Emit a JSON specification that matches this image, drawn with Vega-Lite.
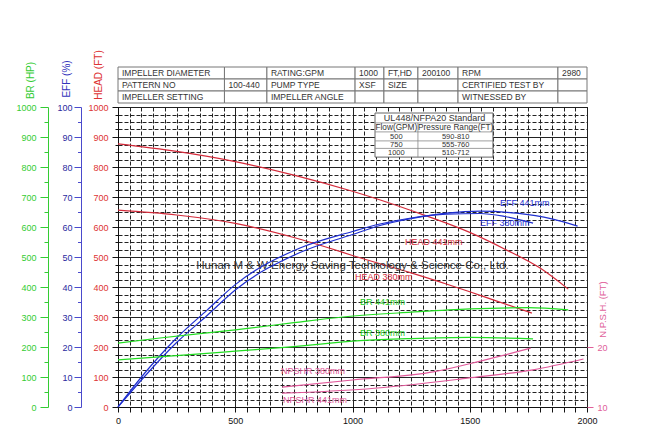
{
  "$schema": "https://vega.github.io/schema/vega-lite/v6.json",
  "background": "white",
  "padding": {"left": 15, "top": 49, "right": 5, "bottom": 5},
  "config": {"font": "Liberation Sans", "view": {"stroke": null}},
  "spacing": 4,
  "bounds": "flush",
  "resolve": {"scale": {"x": "independent", "y": "independent"}},
  "datasets": {
    "table": [
      {"row": 1, "x0": 0, "x1": 454, "label": "IMPELLER DIAMETER"},
      {"row": 1, "x0": 454, "x1": 635, "label": ""},
      {"row": 1, "x0": 635, "x1": 1011, "label": "RATING:GPM"},
      {"row": 1, "x0": 1011, "x1": 1134, "label": "1000"},
      {"row": 1, "x0": 1134, "x1": 1279, "label": "FT,HD"},
      {"row": 1, "x0": 1279, "x1": 1450, "label": "200100"},
      {"row": 1, "x0": 1450, "x1": 1876, "label": "RPM"},
      {"row": 1, "x0": 1876, "x1": 2000, "label": "2980"},
      {"row": 2, "x0": 0, "x1": 454, "label": "PATTERN NO"},
      {"row": 2, "x0": 454, "x1": 635, "label": "100-440"},
      {"row": 2, "x0": 635, "x1": 1011, "label": "PUMP TYPE"},
      {"row": 2, "x0": 1011, "x1": 1134, "label": "XSF"},
      {"row": 2, "x0": 1134, "x1": 1279, "label": "SIZE"},
      {"row": 2, "x0": 1279, "x1": 1450, "label": ""},
      {"row": 2, "x0": 1450, "x1": 1876, "label": "CERTIFIED TEST BY"},
      {"row": 2, "x0": 1876, "x1": 2000, "label": ""},
      {"row": 3, "x0": 0, "x1": 454, "label": "IMPELLER SETTING"},
      {"row": 3, "x0": 454, "x1": 635, "label": ""},
      {"row": 3, "x0": 635, "x1": 1011, "label": "IMPELLER ANGLE"},
      {"row": 3, "x0": 1011, "x1": 1134, "label": ""},
      {"row": 3, "x0": 1134, "x1": 1279, "label": ""},
      {"row": 3, "x0": 1279, "x1": 1450, "label": ""},
      {"row": 3, "x0": 1450, "x1": 1876, "label": "WITNESSED BY"},
      {"row": 3, "x0": 1876, "x1": 2000, "label": ""}
    ],
    "head": [
      {"series": "441", "Q": 0, "v": 877}, {"series": "441", "Q": 250, "v": 852}, {"series": "441", "Q": 500, "v": 818},
      {"series": "441", "Q": 750, "v": 773}, {"series": "441", "Q": 1000, "v": 719}, {"series": "441", "Q": 1250, "v": 655},
      {"series": "441", "Q": 1500, "v": 582}, {"series": "441", "Q": 1650, "v": 526}, {"series": "441", "Q": 1800, "v": 463},
      {"series": "441", "Q": 1920, "v": 393},
      {"series": "380", "Q": 0, "v": 656}, {"series": "380", "Q": 250, "v": 640}, {"series": "380", "Q": 500, "v": 612},
      {"series": "380", "Q": 750, "v": 565}, {"series": "380", "Q": 900, "v": 530}, {"series": "380", "Q": 1000, "v": 505},
      {"series": "380", "Q": 1250, "v": 447}, {"series": "380", "Q": 1400, "v": 410}, {"series": "380", "Q": 1500, "v": 384},
      {"series": "380", "Q": 1600, "v": 357}, {"series": "380", "Q": 1765, "v": 313}
    ],
    "headLabels": [
      {"Q": 1224, "v": 550, "label": "HEAD 441mm"},
      {"Q": 1011, "v": 433, "label": "HEAD 380mm"}
    ],
    "company": [
      {"Q": 1000, "v": 470, "label": "Hunan M & W Energy Saving Technology & Science Co., Ltd."}
    ],
    "box": [
      {"Q": 1096, "Q2": 1599, "v": 833, "v2": 980}
    ],
    "boxLines": [
      {"Q": 1096, "Q2": 1599, "v": 947, "v2": 947},
      {"Q": 1096, "Q2": 1599, "v": 917, "v2": 917},
      {"Q": 1096, "Q2": 1599, "v": 887, "v2": 887},
      {"Q": 1096, "Q2": 1599, "v": 862, "v2": 862},
      {"Q": 1279, "Q2": 1279, "v": 833, "v2": 947}
    ],
    "boxText": [
      {"Q": 1350, "v": 963, "part": "title", "label": "UL448/NFPA20 Standard"},
      {"Q": 1187, "v": 931, "part": "header", "label": "Flow(GPM)"},
      {"Q": 1440, "v": 931, "part": "header", "label": "Pressure Range(FT)"},
      {"Q": 1187, "v": 901, "part": "row", "label": "500"},
      {"Q": 1440, "v": 901, "part": "row", "label": "590-810"},
      {"Q": 1187, "v": 874, "part": "row", "label": "750"},
      {"Q": 1440, "v": 874, "part": "row", "label": "555-760"},
      {"Q": 1187, "v": 847, "part": "row", "label": "1000"},
      {"Q": 1440, "v": 847, "part": "row", "label": "510-712"}
    ],
    "eff": [
      {"series": "441", "Q": 0, "v": 0}, {"series": "441", "Q": 100, "v": 9}, {"series": "441", "Q": 250, "v": 21.5},
      {"series": "441", "Q": 380, "v": 30.5}, {"series": "441", "Q": 500, "v": 39}, {"series": "441", "Q": 776, "v": 51.5},
      {"series": "441", "Q": 1000, "v": 57.5}, {"series": "441", "Q": 1117, "v": 60.5}, {"series": "441", "Q": 1250, "v": 62.8},
      {"series": "441", "Q": 1400, "v": 64.6}, {"series": "441", "Q": 1544, "v": 65.3}, {"series": "441", "Q": 1700, "v": 64.6},
      {"series": "441", "Q": 1850, "v": 62.7}, {"series": "441", "Q": 1960, "v": 60.3},
      {"series": "380", "Q": 0, "v": 0}, {"series": "380", "Q": 100, "v": 10}, {"series": "380", "Q": 250, "v": 23},
      {"series": "380", "Q": 380, "v": 32.3}, {"series": "380", "Q": 500, "v": 40.8}, {"series": "380", "Q": 776, "v": 53},
      {"series": "380", "Q": 1000, "v": 58.5}, {"series": "380", "Q": 1117, "v": 61}, {"series": "380", "Q": 1250, "v": 63},
      {"series": "380", "Q": 1400, "v": 64.3}, {"series": "380", "Q": 1544, "v": 64.5}, {"series": "380", "Q": 1650, "v": 63.5},
      {"series": "380", "Q": 1770, "v": 61.3}
    ],
    "effLabels": [
      {"Q": 1629, "v": 68, "label": "EFF 441mm"},
      {"Q": 1544, "v": 61.3, "label": "EFF 380mm"}
    ],
    "br": [
      {"series": "441", "Q": 0, "v": 213}, {"series": "441", "Q": 179, "v": 230}, {"series": "441", "Q": 500, "v": 257},
      {"series": "441", "Q": 750, "v": 281}, {"series": "441", "Q": 960, "v": 300}, {"series": "441", "Q": 1250, "v": 316},
      {"series": "441", "Q": 1500, "v": 327}, {"series": "441", "Q": 1750, "v": 331}, {"series": "441", "Q": 1920, "v": 324},
      {"series": "380", "Q": 0, "v": 157}, {"series": "380", "Q": 350, "v": 177}, {"series": "380", "Q": 500, "v": 186},
      {"series": "380", "Q": 750, "v": 201}, {"series": "380", "Q": 1032, "v": 221}, {"series": "380", "Q": 1250, "v": 228},
      {"series": "380", "Q": 1500, "v": 232}, {"series": "380", "Q": 1770, "v": 227}
    ],
    "brLabels": [
      {"Q": 1032, "v": 350, "label": "BR 441mm"},
      {"Q": 1032, "v": 247, "label": "BR 380mm"}
    ],
    "npsh": [
      {"series": "380", "Q": 700, "v": 13.3}, {"series": "380", "Q": 1000, "v": 14.5}, {"series": "380", "Q": 1350, "v": 15.9},
      {"series": "380", "Q": 1550, "v": 17.7}, {"series": "380", "Q": 1760, "v": 19.8},
      {"series": "441", "Q": 700, "v": 12.3}, {"series": "441", "Q": 1060, "v": 13.0}, {"series": "441", "Q": 1490, "v": 14.8},
      {"series": "441", "Q": 1770, "v": 16.2}, {"series": "441", "Q": 1985, "v": 18.0}
    ],
    "npshLabels": [
      {"Q": 695, "v": 16, "label": "NPSHR 380mm"},
      {"Q": 704, "v": 11.2, "label": "NPSHR 441mm"}
    ]
  },
  "vconcat": [
    {
      "width": 469,
      "height": 36,
      "data": {"name": "table"},
      "encoding": {
        "x": {"field": "x0", "type": "quantitative", "scale": {"domain": [0, 2000], "nice": false, "zero": false}, "axis": null},
        "y": {"field": "row", "type": "ordinal", "scale": {"paddingInner": 0, "paddingOuter": 0}, "axis": null}
      },
      "layer": [
        {"mark": {"type": "rect", "fill": "white", "stroke": "#777", "strokeWidth": 1}, "encoding": {"x2": {"field": "x1"}}},
        {"mark": {"type": "text", "align": "left", "baseline": "middle", "dx": 4, "fontSize": 8.5, "color": "#333"}, "encoding": {"text": {"field": "label"}}}
      ]
    },
    {
      "width": 469,
      "height": 300,
      "view": {"stroke": "black", "strokeWidth": 1},
      "resolve": {"scale": {"y": "independent"}},
      "encoding": {
        "x": {
          "field": "Q", "type": "quantitative",
          "scale": {"domain": [0, 2000], "nice": false, "zero": false},
          "axis": {
            "values": [0,50,100,150,200,250,300,350,400,450,500,550,600,650,700,750,800,850,900,950,1000,1050,1100,1150,1200,1250,1300,1350,1400,1450,1500,1550,1600,1650,1700,1750,1800,1850,1900,1950,2000],
            "labelExpr": "datum.value % 500 === 0 ? '' + datum.value : ''",
            "labelOverlap": false, "labelFlush": false, "labelFontSize": 9, "labelColor": "#111", "labelPadding": 4,
            "tickSize": 5, "tickColor": "#111", "domainColor": "#111",
            "grid": true, "gridColor": "#222", "gridOpacity": 1, "gridWidth": 1,
            "gridDash": {"condition": {"test": "datum.value % 500 === 0", "value": []}, "value": [4, 2]},
            "title": null
          }
        }
      },
      "layer": [
        {
          "encoding": {
            "y": {
              "field": "v", "type": "quantitative",
              "scale": {"domain": [0, 1000], "nice": false, "zero": false},
              "axis": {
                "orient": "left",
                "values": [0,25,50,75,100,125,150,175,200,225,250,275,300,325,350,375,400,425,450,475,500,525,550,575,600,625,650,675,700,725,750,775,800,825,850,875,900,925,950,975,1000],
                "labelExpr": "datum.value % 100 === 0 ? '' + datum.value : ''",
                "labelOverlap": false, "labelFlush": false, "labelFontSize": 9, "labelColor": "#dd3333", "labelPadding": 4,
                "tickSize": {"condition": {"test": "datum.value % 100 === 0", "value": 6}, "value": 3},
                "tickColor": "#111", "domainColor": "#111",
                "grid": true, "gridColor": "#222", "gridOpacity": 1, "gridWidth": 1,
                "gridDash": {"condition": {"test": "datum.value % 100 === 0", "value": []}, "value": [4, 2]},
                "title": "HEAD (FT)", "titleColor": "#dd3333", "titleFontSize": 10, "titleFontWeight": "normal",
                "titleAngle": 270, "titleAlign": "center", "titleBaseline": "middle", "titleX": -19.5, "titleY": -32.5
              }
            }
          },
          "layer": [
            {"data": {"name": "head"}, "mark": {"type": "line", "color": "#d42a3a", "strokeWidth": 1.2, "interpolate": "monotone"}, "encoding": {"detail": {"field": "series"}}},
            {"data": {"name": "headLabels"}, "mark": {"type": "text", "color": "#d42a3a", "align": "left", "baseline": "middle", "fontSize": 9}, "encoding": {"text": {"field": "label"}}},
            {"data": {"name": "company"}, "mark": {"type": "text", "color": "#333", "align": "center", "baseline": "middle", "fontSize": 11.5}, "encoding": {"text": {"field": "label"}}},
            {"data": {"name": "box"}, "mark": {"type": "rect", "fill": "white", "stroke": "#666", "strokeWidth": 1}, "encoding": {"x2": {"field": "Q2"}, "y2": {"field": "v2"}}},
            {"data": {"name": "boxLines"}, "mark": {"type": "rule", "color": "#888", "strokeWidth": 0.8}, "encoding": {"x2": {"field": "Q2"}, "y2": {"field": "v2"}}},
            {"data": {"name": "boxText"}, "mark": {"type": "text", "color": "#333", "align": "center", "baseline": "middle"}, "encoding": {"text": {"field": "label"}, "size": {"field": "part", "type": "nominal", "scale": {"domain": ["title", "header", "row"], "range": [9, 7.5, 7]}, "legend": null}}}
          ]
        },
        {
          "encoding": {
            "y": {
              "field": "v", "type": "quantitative",
              "scale": {"domain": [0, 100], "nice": false, "zero": false},
              "axis": {
                "orient": "left", "offset": 37,
                "values": [0,5,10,15,20,25,30,35,40,45,50,55,60,65,70,75,80,85,90,95,100],
                "labelExpr": "datum.value % 10 === 0 ? '' + datum.value : ''",
                "labelOverlap": false, "labelFlush": false, "labelFontSize": 9, "labelColor": "#2a2aa0", "labelPadding": 2,
                "tickSize": {"condition": {"test": "datum.value % 10 === 0", "value": 7}, "value": 3.5},
                "tickColor": "#4a4acc", "domainColor": "#4a4acc", "grid": false,
                "title": "EFF (%)", "titleColor": "#3333bb", "titleFontSize": 10, "titleFontWeight": "normal",
                "titleAngle": 270, "titleAlign": "center", "titleBaseline": "middle", "titleX": -14.5, "titleY": -28.5
              }
            }
          },
          "layer": [
            {"data": {"name": "eff"}, "mark": {"type": "line", "color": "#1f2fd0", "strokeWidth": 1.2, "interpolate": "monotone"}, "encoding": {"detail": {"field": "series"}}},
            {"data": {"name": "effLabels"}, "mark": {"type": "text", "color": "#1f2fd0", "align": "left", "baseline": "middle", "fontSize": 9}, "encoding": {"text": {"field": "label"}}}
          ]
        },
        {
          "encoding": {
            "y": {
              "field": "v", "type": "quantitative",
              "scale": {"domain": [0, 1000], "nice": false, "zero": false},
              "axis": {
                "orient": "left", "offset": 70,
                "values": [0,50,100,150,200,250,300,350,400,450,500,550,600,650,700,750,800,850,900,950,1000],
                "labelExpr": "datum.value % 100 === 0 ? '' + datum.value : ''",
                "labelOverlap": false, "labelFlush": false, "labelFontSize": 9, "labelColor": "#33cc33", "labelPadding": 4,
                "tickSize": {"condition": {"test": "datum.value % 100 === 0", "value": 8}, "value": 4},
                "tickColor": "#33cc33", "domainColor": "#33cc33", "grid": false,
                "title": "BR (HP)", "titleColor": "#33cc33", "titleFontSize": 10, "titleFontWeight": "normal",
                "titleAngle": 270, "titleAlign": "center", "titleBaseline": "middle", "titleX": -18, "titleY": -27
              }
            }
          },
          "layer": [
            {"data": {"name": "br"}, "mark": {"type": "line", "color": "#22dd22", "strokeWidth": 1.2, "interpolate": "monotone"}, "encoding": {"detail": {"field": "series"}}},
            {"data": {"name": "brLabels"}, "mark": {"type": "text", "color": "#22cc22", "align": "left", "baseline": "middle", "fontSize": 9}, "encoding": {"text": {"field": "label"}}}
          ]
        },
        {
          "encoding": {
            "y": {
              "field": "v", "type": "quantitative",
              "scale": {"domain": [10, 60], "nice": false, "zero": false},
              "axis": {
                "orient": "right", "values": [10, 20],
                "labelFontSize": 9, "labelColor": "#e0609a", "labelPadding": 4, "labelFlush": false,
                "tickSize": 6, "tickColor": "#e0609a", "domain": false, "grid": false,
                "title": "N.P.S.H. (FT)", "titleColor": "#e0609a", "titleFontSize": 9.5, "titleFontWeight": "normal",
                "titleAngle": 270, "titleAlign": "center", "titleBaseline": "middle", "titleX": 15, "titleY": 202
              }
            }
          },
          "layer": [
            {"data": {"name": "npsh"}, "mark": {"type": "line", "color": "#e0589a", "strokeWidth": 1.2, "interpolate": "monotone"}, "encoding": {"detail": {"field": "series"}}},
            {"data": {"name": "npshLabels"}, "mark": {"type": "text", "color": "#e0589a", "align": "left", "baseline": "middle", "fontSize": 9}, "encoding": {"text": {"field": "label"}}}
          ]
        }
      ]
    }
  ]
}
